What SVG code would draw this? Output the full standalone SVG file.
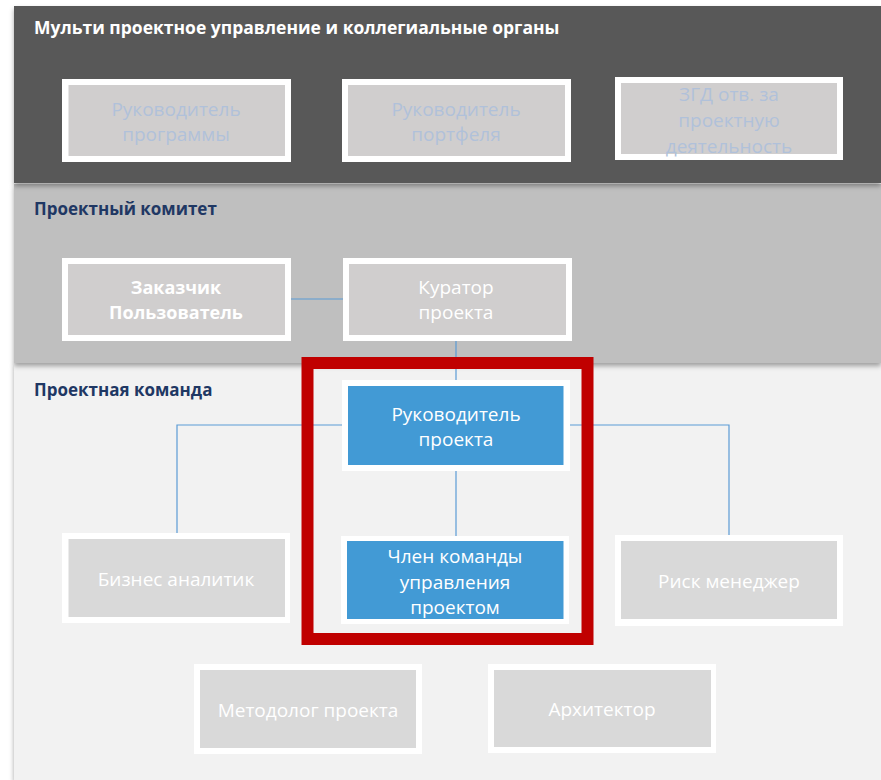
<svg xmlns="http://www.w3.org/2000/svg" width="881" height="780" viewBox="0 0 881 780">
<defs>
<filter id="sh" x="-5%" y="-5%" width="110%" height="115%">
<feDropShadow dx="0" dy="3" stdDeviation="2.5" flood-color="#000" flood-opacity="0.35"/>
</filter>
<style>
.band-title{font-family:"Open Sans","Noto Sans",sans-serif;font-weight:bold;font-size:17.5px}
.frame{fill:#ffffff}
.gray1{fill:#d0cece}
.gray2{fill:#d9d9d9}
.blue{fill:#429ad5}
.t{font-family:"Open Sans","Noto Sans",sans-serif;font-size:19px;text-anchor:middle;dominant-baseline:central}
.tbold{font-weight:bold;font-size:18px}
.tb{fill:#b0c1da}
.tw{fill:#ffffff}
.conn{stroke:#5b9bd5;stroke-width:1.2;fill:none}
</style>
</defs>
<rect width="881" height="780" fill="#ffffff"/>
<g id="bands">
<rect x="14" y="363" width="867" height="417" fill="#f2f2f2" filter="url(#sh)"/>
<rect x="14" y="184" width="867" height="179" fill="#bfbfbf" filter="url(#sh)"/>
<rect x="14" y="6" width="867" height="177" fill="#595959" filter="url(#sh)"/>
<text class="band-title" x="34" y="34" fill="#ffffff">Мульти проектное управление и коллегиальные органы</text>
<text class="band-title" x="34" y="215" fill="#1f3864" style="font-size:17px">Проектный комитет</text>
<text class="band-title" x="34" y="396" fill="#1f3864" style="font-size:17px">Проектная команда</text>
</g>
<g id="connectors">
<line class="conn" x1="291" y1="299" x2="343" y2="299"/>
<line class="conn" x1="456" y1="341" x2="456" y2="380"/>
<polyline class="conn" points="342,425 177,425 177,533"/>
<polyline class="conn" points="570,425 729,425 729,536"/>
<line class="conn" x1="456" y1="471" x2="456" y2="536"/>
</g>
<g id="highlight">
<rect x="307.5" y="363" width="280" height="276" fill="none" stroke="#c00000" stroke-width="12"/>
</g>
<g id="n-prog">
<rect class="frame" x="62" y="79" width="229" height="83"/>
<rect class="gray1" x="68.5" y="85" width="216.5" height="71"/>
<text class="t tb" x="176" y="109">Руководитель</text>
<text class="t tb" x="176" y="134">программы</text>
</g>
<g id="n-portf">
<rect class="frame" x="342" y="79" width="229" height="83"/>
<rect class="gray1" x="348" y="85" width="217" height="71"/>
<text class="t tb" x="456" y="109">Руководитель</text>
<text class="t tb" x="456" y="134">портфеля</text>
</g>
<g id="n-zgd">
<rect class="frame" x="615" y="77" width="228" height="83"/>
<rect class="gray1" x="621" y="83" width="216" height="71"/>
<text class="t tb" x="729" y="94">ЗГД отв. за</text>
<text class="t tb" x="729" y="120">проектную</text>
<text class="t tb" x="729" y="146">деятельность</text>
</g>
<g id="n-zakazchik">
<rect class="frame" x="62" y="258" width="229" height="83"/>
<rect class="gray1" x="68" y="264" width="217" height="71"/>
<text class="t tw tbold" x="176" y="287">Заказчик</text>
<text class="t tw tbold" x="176" y="312">Пользователь</text>
</g>
<g id="n-kurator">
<rect class="frame" x="343" y="258" width="229" height="83"/>
<rect class="gray1" x="349" y="264" width="217" height="71"/>
<text class="t tw" x="456" y="287">Куратор</text>
<text class="t tw" x="456" y="312">проекта</text>
</g>
<g id="n-rp">
<rect class="frame" x="342" y="380" width="228" height="91"/>
<rect class="blue" x="348" y="386" width="215.5" height="79"/>
<text class="t tw" x="456" y="414">Руководитель</text>
<text class="t tw" x="456" y="439">проекта</text>
</g>
<g id="n-member">
<rect class="frame" x="341" y="536" width="228" height="88"/>
<rect class="blue" x="347" y="541" width="216.5" height="78"/>
<text class="t tw" x="455" y="556">Член команды</text>
<text class="t tw" x="455" y="582">управления</text>
<text class="t tw" x="455" y="607">проектом</text>
</g>
<g id="n-ba">
<rect class="frame" x="62" y="533" width="228" height="90"/>
<rect class="gray2" x="68.5" y="539" width="216.5" height="78"/>
<text class="t tw" x="176" y="579">Бизнес аналитик</text>
</g>
<g id="n-risk">
<rect class="frame" x="615" y="535" width="228" height="91"/>
<rect class="gray2" x="621" y="541" width="216" height="78"/>
<text class="t tw" x="729" y="581">Риск менеджер</text>
</g>
<g id="n-method">
<rect class="frame" x="194" y="664" width="228" height="90"/>
<rect class="gray2" x="200" y="670" width="216" height="78"/>
<text class="t tw" x="308" y="710">Методолог проекта</text>
</g>
<g id="n-arch">
<rect class="frame" x="488" y="664" width="228" height="89"/>
<rect class="gray2" x="494" y="670" width="217" height="77"/>
<text class="t tw" x="602" y="709">Архитектор</text>
</g>
</svg>
